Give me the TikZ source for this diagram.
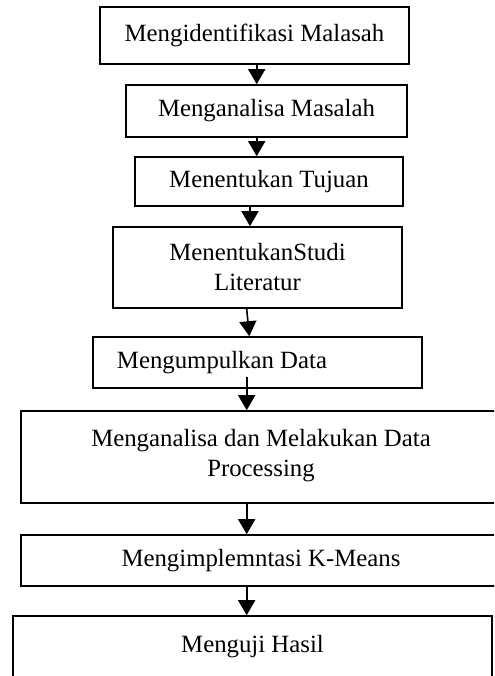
\documentclass[tikz,border=0pt]{standalone}
\usepackage{fontspec}
\setmainfont{Liberation Serif}
\usetikzlibrary{arrows.meta,positioning,calc}
\tikzset{
  box/.style={draw=black,line width=0.8pt,rectangle,align=center,inner sep=2pt,font=\fontsize{12.4pt}{15pt}\selectfont},
  ar/.style={-{Triangle[length=7.5pt,width=8.5pt]},line width=0.8pt,draw=black},
}

\begin{document}
\begin{tikzpicture}[x=0.5pt,y=-0.5pt]
\clip (0,0) rectangle (494,676);
\node[box,minimum width=154.5pt,minimum height=28.5pt] (idf) at (254.5,35.5) {Mengidentifikasi Malasah};
\node[box,minimum width=140.5pt,minimum height=26pt] (ana) at (266.5,111) {Menganalisa Masalah};
\node[box,minimum width=134pt,minimum height=24.5pt] (tuj) at (269,181.5) {Menentukan Tujuan};
\node[box,minimum width=144.5pt,minimum height=40.5pt] (lit) at (257.5,267.5) {MenentukanStudi\\Literatur};
\node[box,minimum width=164.5pt,minimum height=25.5pt] (dat) at (257.5,362.5) {Mengumpulkan Data\hspace{35.5pt}};
\node[box,minimum width=240pt,minimum height=46pt,text depth=4pt] (proc) at (261,457) {Menganalisa dan Melakukan Data\\Processing};
\node[box,minimum width=240pt,minimum height=25.5pt] (km) at (261,560.5) {Mengimplemntasi K-Means};
\node[box,minimum width=239.5pt,minimum height=31pt] (uji) at (252.5,647) {Menguji Hasil};
\coordinate (x1) at (256.7,0);
\coordinate (x2) at (250,0);
\coordinate (x3) at (246.7,0);
\coordinate (x4) at (249.3,0);
\draw[ar] (idf.south -| x1) -- (ana.north -| x1);
\draw[ar] (ana.south -| x1) -- (tuj.north -| x1);
\draw[ar] (tuj.south -| x2) -- (lit.north -| x2);
\draw[ar] (lit.south -| x3) -- (dat.north -| x4);
\draw[ar,shorten <=-6pt] (dat.south -| x3) -- (proc.north -| x3);
\draw[ar] (proc.south -| x3) -- (km.north -| x3);
\draw[ar] (km.south -| x3) -- (uji.north -| x3);
\end{tikzpicture}
\end{document}
